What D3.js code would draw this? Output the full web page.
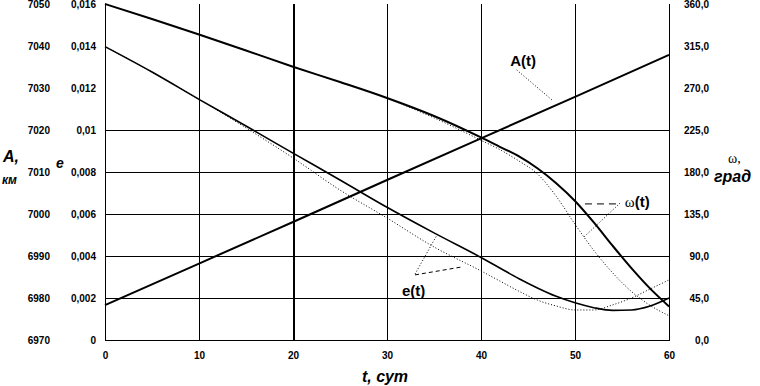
<!DOCTYPE html>
<html>
<head>
<meta charset="utf-8">
<script src="https://cdn.jsdelivr.net/npm/d3@7"></script>
<style>
  body { margin: 0; background: #fff; }
  svg { display: block; font-family: "Liberation Sans", Arial, sans-serif; }
</style>
</head>
<body>
<svg id="chart" width="760" height="386"></svg>
<script>
// t, days
const aDays = [0, 10, 20, 30, 40, 50, 60];
const aValues = [6978.3, 6988.2, 6998.1, 7008.1, 7018.0, 7027.9, 7037.9];

const days = [0, 5, 10, 15, 20, 25, 30, 35, 40, 42, 44, 46, 48, 50, 52, 54, 56, 58, 60];
const omegaSolid = [360, 343.9, 327.3, 310.2, 292.8, 276.4, 259.3, 240, 217, 207, 197, 184, 168, 149, 126, 101, 77, 55, 36];
const omegaDotted = [360, 343.9, 327.3, 310.2, 292.8, 276.4, 259, 238, 214, 204, 192, 178, 154, 124, 96, 72, 52, 37, 26];
const eSolid = [0.01397, 0.01276, 0.01146, 0.01019, 0.00890, 0.00762, 0.00632, 0.00510, 0.00393, 0.00343, 0.00293, 0.00248, 0.00208, 0.00177, 0.00154, 0.00141, 0.00143, 0.00162, 0.00200];
const eDotted = [0.01397, 0.01276, 0.01146, 0.01010, 0.00867, 0.00714, 0.00581, 0.00443, 0.00329, 0.00281, 0.00233, 0.00190, 0.00162, 0.00143, 0.00143, 0.00167, 0.00200, 0.00243, 0.00286];

// tick labels
const tTicks = [0, 10, 20, 30, 40, 50, 60];
const aTicks = [6970, 6980, 6990, 7000, 7010, 7020, 7030, 7040, 7050];
const eTicks = [0, 0.002, 0.004, 0.006, 0.008, 0.01, 0.012, 0.014, 0.016];
const eLabels = ["0", "0,002", "0,004", "0,006", "0,008", "0,01", "0,012", "0,014", "0,016"];
const wTicks = [0, 45, 90, 135, 180, 225, 270, 315, 360];
const wLabels = ["0,0", "45,0", "90,0", "135,0", "180,0", "225,0", "270,0", "315,0", "360,0"];
const gridE = [0.002, 0.004, 0.006, 0.008, 0.01];

const dims = { width: 760, height: 386, margin: { top: 4, right: 91, bottom: 46, left: 105 } };
const x0 = dims.margin.left, x1 = dims.width - dims.margin.right;
const y0 = dims.height - dims.margin.bottom, y1 = dims.margin.top;

const svg = d3.select("#chart");

const xScale = d3.scaleLinear().domain([0, 60]).range([x0, x1]);
const eScale = d3.scaleLinear().domain([0, 0.016]).range([y0, y1]);
const aScale = d3.scaleLinear().domain([6970, 7050]).range([y0, y1]);
const wScale = d3.scaleLinear().domain([0, 360]).range([y0, y1]);

// grid
const grid = svg.append("g").attr("stroke", "#000").attr("shape-rendering", "crispEdges");
grid.selectAll(".hg").data(gridE).enter().append("line")
    .attr("x1", x0).attr("x2", x1)
    .attr("y1", d => Math.round(eScale(d)) + 0.5).attr("y2", d => Math.round(eScale(d)) + 0.5);
grid.selectAll(".vg").data(tTicks).enter().append("line")
    .attr("x1", d => Math.round(xScale(d)) + 0.5).attr("x2", d => Math.round(xScale(d)) + 0.5)
    .attr("y1", y1).attr("y2", y0)
    .attr("stroke-width", d => d === 20 ? 2 : 1);
grid.append("line").attr("x1", x0).attr("x2", x1 + 1).attr("y1", y0 + 0.5).attr("y2", y0 + 0.5);

// axes labels (no tick marks)
const tickFont = g => g.call(s => s.select(".domain").remove())
    .selectAll("text").attr("font-size", 10).attr("font-weight", "bold")
    .attr("font-family", "'Liberation Sans', Arial, sans-serif").attr("fill", "#000");

svg.append("g").attr("transform", `translate(${x0 - 55},0)`)
    .call(d3.axisLeft(aScale).tickValues(aTicks).tickSize(0).tickPadding(0).tickFormat(d3.format("d")))
    .call(tickFont);
svg.append("g").attr("transform", `translate(${x0 - 9},0)`)
    .call(d3.axisLeft(eScale).tickValues(eTicks).tickSize(0).tickPadding(0).tickFormat((d, i) => eLabels[i]))
    .call(tickFont);
svg.append("g").attr("transform", `translate(${x1 + 40},0)`)
    .call(d3.axisLeft(wScale).tickValues(wTicks).tickSize(0).tickPadding(0).tickFormat((d, i) => wLabels[i]))
    .call(tickFont);
svg.append("g").attr("transform", `translate(0,${y0 + 12})`)
    .call(d3.axisBottom(xScale).tickValues(tTicks).tickSize(0).tickPadding(0).tickFormat(d3.format("d")))
    .call(tickFont);

// curves
const lineE = d3.line().x((d, i) => xScale(days[i])).y(d => eScale(d)).curve(d3.curveMonotoneX);
const lineW = d3.line().x((d, i) => xScale(days[i])).y(d => wScale(d)).curve(d3.curveMonotoneX);
const lineA = d3.line().x((d, i) => xScale(aDays[i])).y(d => aScale(d));

svg.append("path").attr("d", lineW(omegaDotted)).attr("fill", "none").attr("stroke", "#000").attr("stroke-width", 1).attr("stroke-dasharray", "1,2");
svg.append("path").attr("d", lineE(eDotted)).attr("fill", "none").attr("stroke", "#000").attr("stroke-width", 1).attr("stroke-dasharray", "1,2");
svg.append("path").attr("d", lineW(omegaSolid)).attr("fill", "none").attr("stroke", "#000").attr("stroke-width", 2);
svg.append("path").attr("d", lineE(eSolid)).attr("fill", "none").attr("stroke", "#000").attr("stroke-width", 1.6);
svg.append("path").attr("d", lineA(aValues)).attr("fill", "none").attr("stroke", "#000").attr("stroke-width", 2);

// leaders, in (t, e) units
const leaders = [
    { from: [43.8, 0.01286], to: [47.55, 0.01143], dash: "1,2" },
    { from: [51.06, 0.00648], to: [54.79, 0.00648], dash: "7,5" },
    { from: [54.79, 0.00652], to: [50.85, 0.00486], dash: "1,2" },
    { from: [32.98, 0.00314], to: [35.32, 0.00500], dash: "1,2" },
    { from: [32.98, 0.00310], to: [37.98, 0.00348], dash: "4,3" }
];
svg.selectAll(".leader").data(leaders).enter().append("line")
    .attr("x1", d => xScale(d.from[0])).attr("y1", d => eScale(d.from[1]))
    .attr("x2", d => xScale(d.to[0])).attr("y2", d => eScale(d.to[1]))
    .attr("stroke", "#000").attr("stroke-width", 1).attr("stroke-dasharray", d => d.dash);

// curve labels
svg.append("text").attr("x", xScale(43.1)).attr("y", eScale(0.01305))
    .attr("font-size", 15).attr("font-weight", "bold").text("A(t)");
const wl = svg.append("text").attr("x", xScale(55.3)).attr("y", eScale(0.00633)).attr("font-size", 15);
wl.append("tspan").attr("font-family", "'Liberation Serif', serif").text("ω");
wl.append("tspan").attr("font-weight", "bold").text("(t)");
svg.append("text").attr("x", xScale(31.6)).attr("y", eScale(0.0021))
    .attr("font-size", 15).attr("font-weight", "bold").text("e(t)");

// axis titles
svg.append("text").attr("x", 3).attr("y", 162).attr("font-size", 16).attr("font-weight", "bold").attr("font-style", "italic").text("A,");
svg.append("text").attr("x", 2).attr("y", 184).attr("font-size", 12).attr("font-weight", "bold").attr("font-style", "italic").text("км");
svg.append("text").attr("x", 56).attr("y", 168).attr("font-size", 14).attr("font-weight", "bold").attr("font-style", "italic").text("e");
svg.append("text").attr("x", 728).attr("y", 163).attr("font-size", 14).attr("font-family", "'Liberation Serif', serif").text("ω,");
svg.append("text").attr("x", 714).attr("y", 182).attr("font-size", 16).attr("font-weight", "bold").attr("font-style", "italic").text("град");
svg.append("text").attr("x", 385).attr("y", 382).attr("text-anchor", "middle").attr("font-size", 16).attr("font-weight", "bold").attr("font-style", "italic").text("t, сут");
</script>
</body>
</html>
